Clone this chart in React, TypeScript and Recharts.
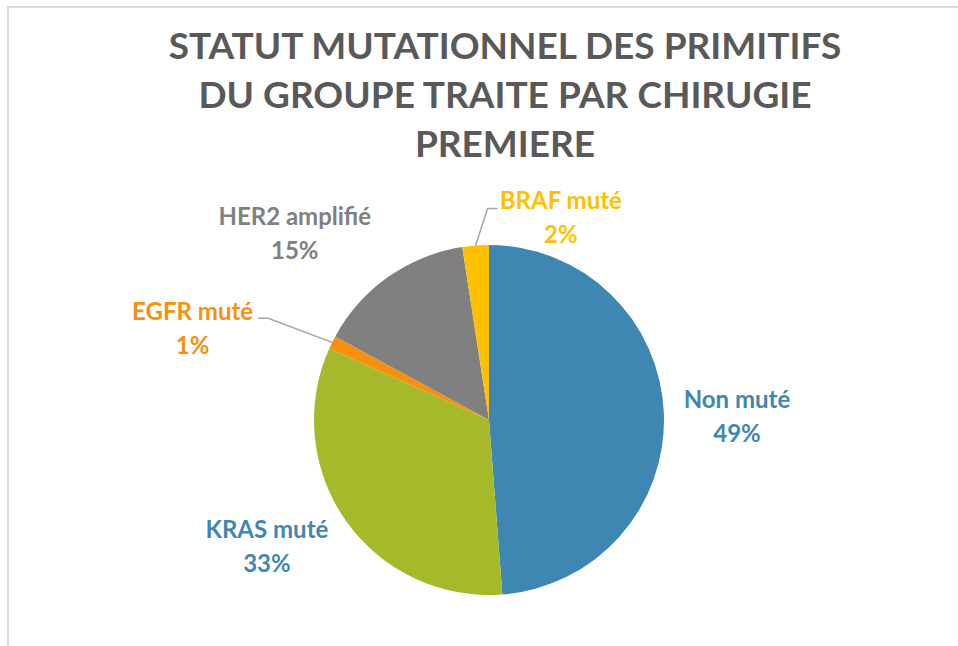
import { PieChart, Pie, Cell } from 'recharts'

const categories = ['Non muté', 'KRAS muté', 'EGFR muté', 'HER2 amplifié', 'BRAF muté']
const counts = [40, 27, 1, 12, 2]
const colors = ['#3F87B3', '#A5B92B', '#F6900E', '#808080', '#FFC000']
const labelColors = ['#3F87B3', '#3F87B3', '#F6900E', '#808080', '#FFC000']
const titleLines = ['STATUT MUTATIONNEL DES PRIMITIFS', 'DU GROUPE TRAITE PAR CHIRUGIE', 'PREMIERE']

const data = categories.map((name, i) => ({ name, value: counts[i] }))

// where each label sits: distance from centre and angle tweak from the slice's mid angle
const labelPos: Record<string, { r: number; shift: number; leader?: { ex: number; ey: number; dx: number } }> = {
  'Non muté': { r: 248, shift: -1.5 },
  'KRAS muté': { r: 256, shift: -5.3 },
  'EGFR muté': { r: 310, shift: 9.3, leader: { ex: -64, ey: -24, dx: -10 } },
  'HER2 amplifié': { r: 269, shift: 11.1 },
  'BRAF muté': { r: 214, shift: -24, leader: { ex: 12, ey: -37, dx: 10 } },
}

const RAD = Math.PI / 180
const FONT = "Lato, 'Open Sans', sans-serif"

const renderLabel = (props: any) => {
  const { cx, cy, midAngle, outerRadius, percent, name, index } = props
  const cfg = labelPos[name]
  const a = (midAngle + cfg.shift) * RAD
  const tx = cx + cfg.r * Math.cos(a)
  const ty = cy - cfg.r * Math.sin(a)
  const color = labelColors[index]
  let leader = null
  if (cfg.leader) {
    const sx = cx + outerRadius * Math.cos(midAngle * RAD)
    const sy = cy - outerRadius * Math.sin(midAngle * RAD)
    const bx = sx + cfg.leader.ex
    const by = sy + cfg.leader.ey
    leader = (
      <polyline points={`${sx},${sy} ${bx},${by} ${bx + cfg.leader.dx},${by}`} fill="none" stroke="#A6A6A6" strokeWidth={1.5} />
    )
  }
  return (
    <g>
      {leader}
      <text x={tx} y={ty} textAnchor="middle" fill={color} fontFamily={FONT} fontWeight="bold" fontSize={24}>
        <tspan x={tx} dy={-9}>{name}</tspan>
        <tspan x={tx} dy={34}>{Math.round(percent * 100)}%</tspan>
      </text>
    </g>
  )
}

export default function App() {
  return (
    <div style={{ position: 'fixed', left: 0, top: 0, width: 958, height: 646, overflow: 'hidden', background: '#fff' }}>
      <div style={{ position: 'absolute', left: 7, top: 6, width: 1000, height: 700, border: '2px solid #D9D9D9' }} />
      <div style={{ position: 'absolute', left: 0, top: 20, width: 1010, textAlign: 'center', color: '#595959', fontFamily: FONT, fontWeight: 'bold', fontSize: 37, lineHeight: '49px' }}>
        {titleLines.map((t) => (
          <div key={t}>{t}</div>
        ))}
      </div>
      <div style={{ position: 'absolute', left: 0, top: 0 }}>
        <PieChart width={958} height={646} margin={{ top: 0, right: 0, bottom: 0, left: 0 }}>
          <Pie
            data={data}
            dataKey="value"
            nameKey="name"
            cx={489}
            cy={420}
            outerRadius={175}
            startAngle={90}
            endAngle={-270}
            stroke="none"
            label={renderLabel}
            labelLine={false}
            isAnimationActive={false}
          >
            {data.map((d, i) => (
              <Cell key={d.name} fill={colors[i]} />
            ))}
          </Pie>
        </PieChart>
      </div>
    </div>
  )
}
